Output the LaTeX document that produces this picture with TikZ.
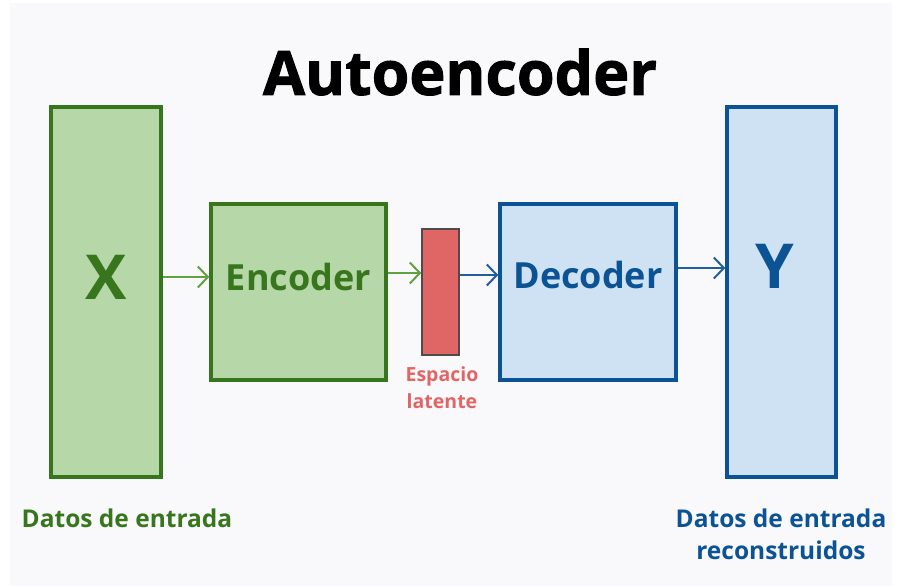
\documentclass[tikz,border=0pt]{standalone}
\usepackage{fontspec}
\setmainfont{Open Sans}
\newfontfamily\titlefont{Open Sans}[BoldFeatures={FakeBold=1.6}]
\usepackage{tikz}
\usetikzlibrary{arrows.meta, positioning}
\definecolor{encgreen}{HTML}{38761D}
\definecolor{encfill}{HTML}{B6D7A8}
\definecolor{arrgreen}{HTML}{5FA23F}
\definecolor{decblue}{HTML}{0B5394}
\definecolor{decfill}{HTML}{CFE2F3}
\definecolor{arrblue}{HTML}{1F5FA0}
\definecolor{latred}{HTML}{E06666}
\definecolor{bggray}{HTML}{F9F9FC}
\tikzstyle{gbox} = [rectangle, draw=encgreen, fill=encfill, line width=3.5pt, inner sep=0pt]
\tikzstyle{bbox} = [rectangle, draw=decblue, fill=decfill, line width=3.5pt, inner sep=0pt]
\tikzstyle{latbox} = [rectangle, draw=black!70, fill=latred, line width=1.5pt, inner sep=0pt, minimum width=37pt, minimum height=126pt]
\tikzstyle{garrow} = [draw=arrgreen, line width=2pt, -{Straight Barb[length=10pt, width=21pt, line width=2pt]}]
\tikzstyle{barrow} = [draw=arrblue, line width=2pt, -{Straight Barb[length=10pt, width=21pt, line width=2pt]}]

\begin{document}
\begin{tikzpicture}[x=1pt, y=-1pt]

% Background
\useasboundingbox (0,0) rectangle (901,587);
\fill[bggray] (10,3) rectangle (892,586);

% Title
\node (title) at (460,72) {\titlefont\fontsize{61}{70}\selectfont\bfseries Autoencoder};

% Blocks
\node[gbox, minimum width=110pt, minimum height=370pt] (inp) at (106,292) {};
\node[gbox, minimum width=175pt, minimum height=176pt] (enc) at (298.5,292) {};
\node[latbox] (lat) at (440.5,292) {};
\node[bbox, minimum width=176pt, minimum height=176pt] (dec) at (588,292) {};
\node[bbox, minimum width=109pt, minimum height=370pt] (out) at (781.5,292) {};

% Block texts
\node[text=encgreen, font=\fontsize{62}{62}\selectfont\bfseries] (xtxt) at (106,277) {X};
\node[text=encgreen, font=\fontsize{36}{36}\selectfont\bfseries] (enctxt) at (298.5,277) {Encoder};
\node[text=decblue, font=\fontsize{36}{36}\selectfont\bfseries] (dectxt) at (588,275) {Decoder};
\node[text=decblue, font=\fontsize{62}{62}\selectfont\bfseries] (ytxt) at (775,266) {Y};

% Captions
\node[text=latred, align=center, font=\fontsize{19.5}{27}\selectfont\bfseries] (lattxt) at (442,388) {Espacio\\latente};
\node[text=encgreen, font=\fontsize{24.5}{32}\selectfont\bfseries] (intxt) at (127,518) {Datos de entrada};
\node[text=decblue, align=center, font=\fontsize{24.5}{32}\selectfont\bfseries] (outtxt) at (781,534) {Datos de entrada\\reconstruidos};

% Arrows
\draw[garrow] ([yshift=15pt]inp.east) -- ([yshift=15pt]enc.west);
\draw[garrow] ([yshift=19pt]enc.east) -- ([yshift=19pt]lat.west);
\draw[barrow] ([yshift=17pt]lat.east) -- ([yshift=17pt]dec.west);
\draw[barrow] ([yshift=24pt]dec.east) -- ([yshift=24pt]out.west);

\end{tikzpicture}
\end{document}
